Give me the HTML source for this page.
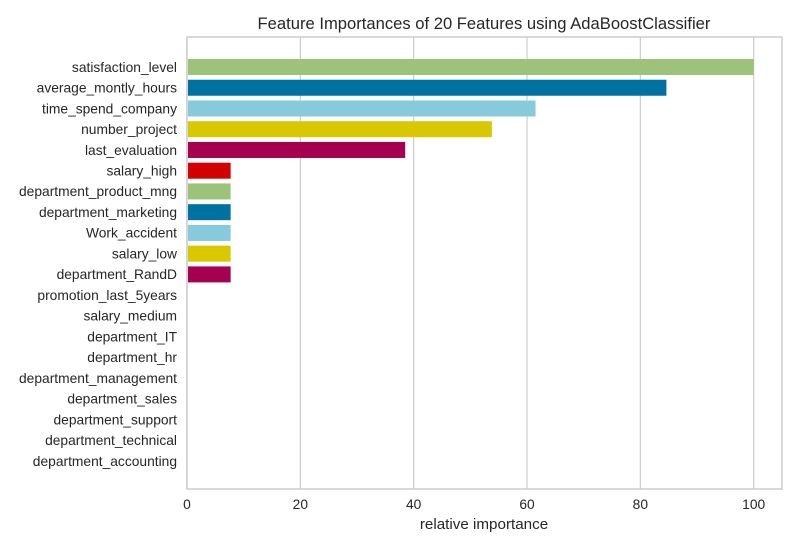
<!DOCTYPE html>
<html><head><meta charset="utf-8"><style>
html,body{margin:0;padding:0;background:#fff;}
svg text{font-family:"Liberation Sans",Arial,sans-serif;fill:#262626;}
</style></head><body>
<svg id="chart" width="800" height="550" xmlns="http://www.w3.org/2000/svg">
<rect width="800" height="550" fill="#fff"/>
<text x="484" y="29" font-size="16.6" text-anchor="middle">Feature Importances of 20 Features using AdaBoostClassifier</text>
<g id="grid"></g>
<g id="bars"></g>
<g id="labels"></g>
<rect x="187" y="37" width="595" height="452" fill="none" stroke="#cccccc" stroke-width="1.5"/>
<text x="484" y="529" font-size="15.2" text-anchor="middle">relative importance</text>
</svg>
<script>
const features = ["satisfaction_level","average_montly_hours","time_spend_company","number_project","last_evaluation","salary_high","department_product_mng","department_marketing","Work_accident","salary_low","department_RandD","promotion_last_5years","salary_medium","department_IT","department_hr","department_management","department_sales","department_support","department_technical","department_accounting"];
const importances = [100,84.6,61.5,53.8,38.5,7.7,7.7,7.7,7.7,7.7,7.7,0,0,0,0,0,0,0,0,0];
const xTicks = [0,20,40,60,80,100];
const barColors = ["#9dc37a","#0072a2","#87cadb","#d9c800","#a4004f","#d20000"];
(function(){
const NS="http://www.w3.org/2000/svg";
const x0=187, sx=5.667, y0=67, dy=20.74, bh=16, plotTop=37, plotBottom=489;
const X=v=>x0+v*sx, Y=i=>y0+i*dy;
const grid=document.getElementById('grid'), bars=document.getElementById('bars'), labels=document.getElementById('labels');
function mk(t,a){const e=document.createElementNS(NS,t);for(const k in a)e.setAttribute(k,a[k]);return e;}
xTicks.forEach(t=>{
  const l=mk('line',{x1:X(t),x2:X(t),y1:plotTop,y2:plotBottom,stroke:'#cccccc','stroke-width':1.2});
  
  
  grid.appendChild(l);
  const tx=mk('text',{x:X(t),y:509,'font-size':13.8,'text-anchor':'middle'});
  
  
  tx.textContent=t;labels.appendChild(tx);
});
features.forEach((f,i)=>{
  const v=importances[i];
  if(v>0){
    const r=mk('rect',{x:X(0)+1,y:Y(i)-bh/2,width:Math.max(0,X(v)-X(0)-1),height:bh,fill:barColors[i%barColors.length]});
    
    
    bars.appendChild(r);
  }
  const tx=mk('text',{x:177,y:Y(i)+4.8,'font-size':13.8,'text-anchor':'end'});
  
  
  tx.textContent=f;labels.appendChild(tx);
});
})();
</script>
</body></html>
